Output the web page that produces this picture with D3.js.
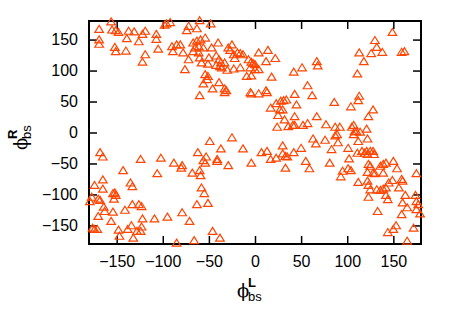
<!DOCTYPE html>
<html>
<head>
<meta charset="utf-8">
<script src="https://cdn.jsdelivr.net/npm/d3@7"></script>
<style>
body { margin: 0; background: #fff; }
svg { display: block; }
</style>
</head>
<body>
<svg id="chart" width="450" height="315"></svg>
<script>
// [phi_bs^L, phi_bs^R] pairs, grouped by region
var topLeft = [
    [-156,178],[-169,166],[-155,165],[-151,164],[-148,161],[-137,163],[-131,162],[-119,163],[-122,158],
    [-169,149],[-169,142],[-139,151],[-126,146],[-152,137],[-151,130],[-140,131],[-119,125],[-122,113]
];
var topMiddle = [
    [-98,173],[-92,177],[-96,175],[-72,171],[-74,164],[-63,167],[-60,180],[-48,175],[-107,158],[-107,150],
    [-105,134],[-90,138],[-85,141],[-81,141],[-89,130],[-78,128],[-72,117],[-76,101],[-67,144],[-63,147],
    [-59,149],[-54,152],[-65,136],[-61,138],[-56,136],[-67,130],[-61,128],[-60,120],[-58,112],[-40,144],
    [-47,136],[-50,120],[-51,110],[-42,123],[-39,117],[-37,112],[-38,106],[-42,108],[-29,136],[-27,132],
    [-25,141],[-19,128],[-16,127],[-13,125],[-23,125],[-22,119],[-30,100],[-23,102],[-16,104],[-36,104],
    [-33,112],[-7,117],[-4,113],[-2,111],[0,109],[-5,104],[0,101],[4,101],[-9,90],[-4,91],
    [4,128],[14,132],[22,119],[12,114],[18,89],[-54,93],[-51,90],[-52,85],[-56,78],[-46,70],
    [-39,80],[-33,70],[-31,67],[-33,64],[-60,59],[-5,64],[-4,62],[4,62],[12,67],[13,64]
];
var centre = [
    [17,39],[23,46],[27,36],[31,51],[34,52],[30,36],[25,27],[32,20],[24,8],[36,9],
    [51,104],[42,97],[57,75],[62,59],[43,61],[28,50],[45,44],[86,48],[104,41],[113,58],
    [112,51],[128,36],[123,25],[43,25],[67,25],[41,11],[43,11],[52,11],[57,14],[77,12],
    [87,8],[92,8],[105,8],[107,11],[110,1],[108,1],[114,0],[121,5],[107,-4],[87,-6],
    [89,-4],[90,-17],[66,-19],[63,-11],[76,-13],[122,-11],[112,-15],[101,-26],[83,-28],
    [30,-22],[42,-33],[50,-26],[33,-39],[35,-40],[30,-35],[33,-58],[55,-47],[59,-59],[81,-50]
];
var rightUpper = [
    [149,161],[130,148],[132,137],[138,129],[126,127],[113,128],[118,114],[159,129],[162,130],
    [111,94],[67,114],[68,107]
];
var rightLower = [
    [111,-34],[116,-31],[121,-31],[125,-31],[128,-31],[119,-34],[129,-36],[122,-36],[102,-43],[95,-63],
    [93,-72],[101,-59],[104,-62],[112,-81],[123,-52],[125,-55],[128,-66],[122,-65],[136,-55],[139,-52],
    [142,-50],[150,-47],[154,-59],[130,-67],[139,-66],[122,-79],[123,-86],[125,-93],[132,-93],[136,-94],
    [139,-92],[142,-90],[145,-82],[149,-78],[156,-90],[159,-76],[160,-79],[142,-102],[144,-109],[123,-105],
    [133,-128],[163,-102],[160,-114],[165,-122],[159,-133],[175,-67],[174,-102],[175,-112],[175,-125],[177,-117],
    [179,-132],[153,-151],[150,-157],[144,-162],[172,-155],[165,-176]
];
var bottomMiddle = [
    [-49,-15],[-25,-9],[-37,-27],[-13,-27],[-62,-33],[-53,-40],[-56,-46],[-54,-50],[-41,-47],[-41,-44],
    [-29,-54],[-79,-54],[-80,-58],[-88,-50],[-102,-42],[-124,-44],[-106,-67],[-68,-66],[-60,-62],[-59,-70],
    [-4,-50],[7,-33],[13,-31],[17,-44],[23,-42],[-58,-90],[-55,-99],[-63,-117],[-51,-115],[-79,-130],
    [-71,-144],[-95,-137],[-109,-140],[-122,-140],[-123,-153],[-124,-160],[-123,-120],[-46,-160],[-38,-171],[-66,-175],
    [-85,-179]
];
var bottomLeft = [
    [-168,-33],[-165,-40],[-143,-62],[-165,-77],[-174,-86],[-165,-92],[-135,-82],[-133,-88],[-177,-105],[-179,-112],
    [-170,-108],[-168,-110],[-154,-99],[-152,-98],[-151,-102],[-153,-108],[-164,-121],[-163,-128],[-170,-136],[-154,-129],
    [-156,-144],[-141,-126],[-133,-117],[-126,-117],[-176,-155],[-174,-157],[-171,-157],[-148,-158],[-138,-157],[-134,-151],
    [-128,-160],[-147,-168],[-132,-171]
];
var tickValues = [-150, -100, -50, 0, 50, 100, 150];

var points = [].concat(topLeft, topMiddle, centre, rightUpper, rightLower, bottomMiddle, bottomLeft);

var svg = d3.select("#chart");
var plotLeft = 89, plotRight = 421, plotTop = 21, plotBottom = 244;
var font = "'Liberation Sans', Arial, sans-serif";

var x = d3.scaleLinear().domain([-180, 180]).range([plotLeft, plotRight]);
var y = d3.scaleLinear().domain([-180, 180]).range([plotBottom, plotTop]);

function styleAxis(g) {
    g.select(".domain").remove();
    g.selectAll(".tick line").attr("stroke", "#000").attr("stroke-width", 1.5);
    g.selectAll(".tick text").attr("fill", "#000").style("font-family", font).style("font-size", "16px");
}

svg.append("g").attr("transform", "translate(0," + plotBottom + ")")
    .call(d3.axisBottom(x).tickValues(tickValues).tickSize(-8).tickPadding(12))
    .call(styleAxis);
svg.append("g").attr("transform", "translate(0," + plotTop + ")")
    .call(d3.axisTop(x).tickValues(tickValues).tickSize(-8).tickFormat(""))
    .call(styleAxis);
svg.append("g").attr("transform", "translate(" + plotLeft + ",0)")
    .call(d3.axisLeft(y).tickValues(tickValues).tickSize(-8).tickPadding(11))
    .call(styleAxis);
svg.append("g").attr("transform", "translate(" + plotRight + ",0)")
    .call(d3.axisRight(y).tickValues(tickValues).tickSize(-8).tickFormat(""))
    .call(styleAxis);

// frame
svg.append("rect")
    .attr("x", plotLeft).attr("y", plotTop)
    .attr("width", plotRight - plotLeft).attr("height", plotBottom - plotTop)
    .attr("fill", "none").attr("stroke", "#000").attr("stroke-width", 2);

// open triangles
svg.append("g").selectAll("path")
    .data(points)
    .enter()
    .append("path")
    .attr("transform", function(d) { return "translate(" + x(d[0]) + "," + y(d[1]) + ")"; })
    .attr("d", "M0,-4.3L4.3,2.7L-4.3,2.7Z")
    .attr("fill", "none")
    .attr("stroke", "#ff4500")
    .attr("stroke-width", 1.2);

// x axis title
var xt = svg.append("text")
    .attr("x", 237).attr("y", 297)
    .style("font-family", font).style("font-size", "18px").attr("fill", "#000");
xt.append("tspan").style("font-family", "'DejaVu Serif', serif").text("ϕ");
xt.append("tspan").attr("x", 248).attr("y", 287).style("font-size", "13px").style("font-weight", "bold").text("L");
xt.append("tspan").attr("x", 248).attr("y", 301).style("font-size", "13px").text("bs");

// y axis title
var yt = svg.append("text")
    .attr("transform", "translate(27,150) rotate(-90)")
    .style("font-family", font).style("font-size", "18px").attr("fill", "#000");
yt.append("tspan").style("font-family", "'DejaVu Serif', serif").text("ϕ");
yt.append("tspan").attr("x", 11).attr("y", -10).style("font-size", "13px").style("font-weight", "bold").text("R");
yt.append("tspan").attr("x", 11).attr("y", 4).style("font-size", "13px").text("bs");
</script>
</body>
</html>
